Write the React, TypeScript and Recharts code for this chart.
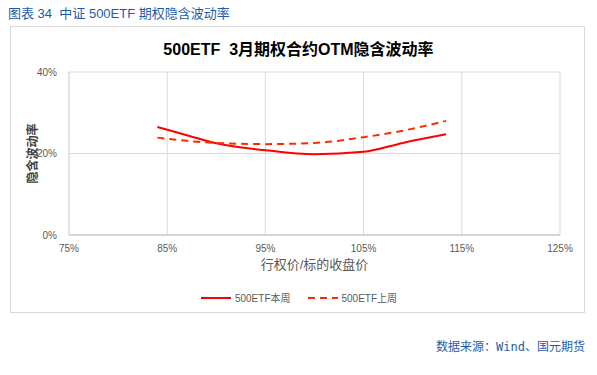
import React from 'react';
import { LineChart, Line, XAxis, YAxis, CartesianGrid, Label } from 'recharts';

const strikes = [84, 87, 90, 95, 100, 105, 109, 113.4];
const thisWeek = [26.5, 24.5, 22.5, 20.8, 19.8, 20.4, 22.6, 24.7];
const lastWeek = [23.9, 23.1, 22.6, 22.3, 22.6, 24.0, 25.6, 28.0];
const xTicks = [75, 85, 95, 105, 115, 125];
const yTicks = [0, 20, 40];
const seriesNames = ['500ETF本周', '500ETF上周'];

const data = strikes.map((s, i) => ({ k: s, a: thisWeek[i], b: lastWeek[i] }));

const FONT = '"Liberation Sans", Arial, "Noto Sans CJK SC", sans-serif';
const BLUE = '#1f5ca8';

const LegendContent = () => (
  <div style={{ display: 'flex', justifyContent: 'center', fontFamily: FONT, fontSize: 10, color: '#595959' }}>
    <div style={{ display: 'flex', alignItems: 'center', marginRight: 16 }}>
      <svg width={32} height={10}><line x1={1} y1={5} x2={31} y2={5} stroke="#ff0000" strokeWidth={2} /></svg>
      <span style={{ marginLeft: 3 }}>{seriesNames[0]}</span>
    </div>
    <div style={{ display: 'flex', alignItems: 'center' }}>
      <svg width={32} height={10}><line x1={1} y1={5} x2={31} y2={5} stroke="#ff2a00" strokeWidth={2} strokeDasharray="7 5" /></svg>
      <span style={{ marginLeft: 3 }}>{seriesNames[1]}</span>
    </div>
  </div>
);

export default function App() {
  return (
    <div style={{ position: 'absolute', left: 0, top: 0, width: 597, height: 375, background: '#fff', fontFamily: FONT }}>
      <div style={{ position: 'absolute', left: 8, top: 3, fontSize: 13, color: BLUE, whiteSpace: 'nowrap' }}>
        图表 34&nbsp; 中证 500ETF 期权隐含波动率
      </div>
      <div style={{ position: 'absolute', left: 10, top: 26, width: 573, height: 285, border: '1px solid #d9d9d9' }} />
      <div style={{ position: 'absolute', left: 0, width: 597, top: 36, textAlign: 'center', fontSize: 16, fontWeight: 'bold', color: '#000', whiteSpace: 'nowrap' }}>
        500ETF&nbsp; 3月期权合约OTM隐含波动率
      </div>
      <div style={{ position: 'absolute', right: 12, top: 337, fontSize: 12, color: BLUE, whiteSpace: 'nowrap', fontFamily: '"DejaVu Sans Mono", "Noto Sans CJK SC", monospace' }}>
        数据来源：Wind、国元期货
      </div>
      <div style={{ position: 'absolute', left: 0, top: 0 }}>
        <LineChart width={597} height={375} data={data} margin={{ top: 72, right: 37, bottom: 80, left: 0 }}>
          <CartesianGrid stroke="#d9d9d9" vertical={true} horizontal={true} />
          <XAxis
            dataKey="k"
            type="number"
            domain={[75, 125]}
            ticks={xTicks}
            tickFormatter={(v: number) => `${v}%`}
            tickLine={false}
            axisLine={{ stroke: '#bfbfbf' }}
            tick={{ fill: '#595959', fontSize: 10, fontFamily: FONT }}
            tickMargin={4}
            height={60}
            interval={0}
          >
            <Label value="行权价/标的收盘价" position="insideTop" offset={25} style={{ fill: '#595959', fontSize: 13, fontFamily: FONT }} />
          </XAxis>
          <YAxis
            type="number"
            domain={[0, 40]}
            ticks={yTicks}
            tickFormatter={(v: number) => `${v}%`}
            tickLine={false}
            axisLine={{ stroke: '#d9d9d9' }}
            tick={{ fill: '#595959', fontSize: 10, fontFamily: FONT }}
            tickMargin={6}
            width={69}
          >
            <Label value="隐含波动率" angle={-90} position="insideLeft" offset={33} style={{ fill: '#404040', fontSize: 12, fontWeight: 'bold', fontFamily: FONT, textAnchor: 'middle' }} />
          </YAxis>
          <Line type="monotone" dataKey="a" name={seriesNames[0]} stroke="#ff0000" strokeWidth={2} dot={false} isAnimationActive={false} />
          <Line type="monotone" dataKey="b" name={seriesNames[1]} stroke="#ff2a00" strokeWidth={2} strokeDasharray="7 5" dot={false} isAnimationActive={false} />
        </LineChart>
      </div>
      <div style={{ position: 'absolute', left: 0, top: 290, width: 597 }}>
        <LegendContent />
      </div>
    </div>
  );
}
